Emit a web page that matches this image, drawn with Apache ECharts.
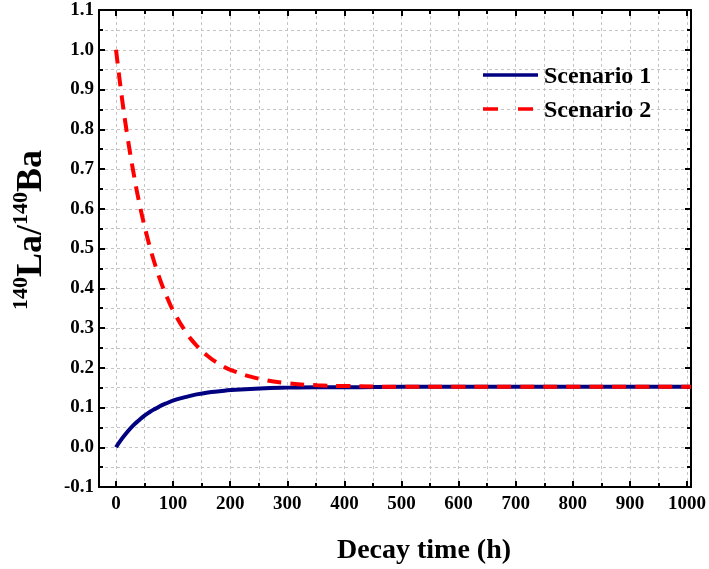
<!DOCTYPE html>
<html>
<head>
<meta charset="utf-8">
<script src="https://cdn.jsdelivr.net/npm/echarts@6/dist/echarts.min.js"></script>
<style>
  html, body { margin: 0; padding: 0; background: #fff; }
  #echarts { width: 709px; height: 569px; }
</style>
</head>
<body>
<div id="echarts"></div>
<script>
// data
var times = [0, 10, 20, 30, 40, 50, 60, 70, 80, 90, 100, 120, 140, 160, 180, 200, 250, 300, 350, 400, 500, 600, 700, 800, 900, 1000];
var scenario1 = [0, 0.021, 0.039, 0.055, 0.068, 0.080, 0.090, 0.098, 0.106, 0.112, 0.118, 0.126, 0.133, 0.138, 0.141, 0.144, 0.148, 0.150, 0.151, 0.151, 0.152, 0.152, 0.152, 0.152, 0.152, 0.152];
var scenario2 = [1.0, 0.882, 0.781, 0.694, 0.618, 0.554, 0.498, 0.450, 0.408, 0.373, 0.342, 0.293, 0.256, 0.229, 0.209, 0.194, 0.172, 0.161, 0.156, 0.154, 0.152, 0.152, 0.152, 0.152, 0.152, 0.152];
var seriesNames = ['Scenario 1', 'Scenario 2'];

var FONT = "'Liberation Serif', 'Times New Roman', serif";
var BLUE = '#000080', RED = '#ff0000';

function pairs(xs, ys) {
  return xs.map(function (x, i) { return [x, ys[i]]; });
}

var chart = echarts.init(document.getElementById('echarts'));

var gridLine = { show: true, lineStyle: { color: '#c4c4c4', type: [3, 3], width: 1 } };
var blackLine = { show: true, onZero: false, lineStyle: { color: '#000', width: 2 } };
var tick = { inside: true, length: 6, lineStyle: { color: '#000', width: 2 } };
var minor = { show: true, splitNumber: 2, length: 4, lineStyle: { color: '#000', width: 2 } };
var labelFont = { color: '#000', fontFamily: FONT, fontWeight: 'bold', fontSize: 19 };

var option = {
  backgroundColor: '#fff',
  animation: false,
  grid: [
    { left: 99, right: 18, top: 10, bottom: 82 },
    { left: 116, right: 18, top: 10, bottom: 82 }
  ],
  xAxis: [
    // frame lines of the full plot box
    { gridIndex: 0, type: 'value', min: -29.6, max: 1000, position: 'bottom',
      axisLine: blackLine, axisTick: { show: false }, axisLabel: { show: false }, splitLine: { show: false } },
    { gridIndex: 0, type: 'value', min: -29.6, max: 1000, position: 'top',
      axisLine: blackLine, axisTick: { show: false }, axisLabel: { show: false }, splitLine: { show: false } },
    // ticks, labels and grid starting at 0
    { gridIndex: 1, type: 'value', min: 0, max: 1000, interval: 100, position: 'bottom',
      axisLine: { show: false, onZero: false },
      axisTick: tick, minorTick: minor,
      axisLabel: Object.assign({ margin: 8, formatter: function (v) { return String(v); } }, labelFont),
      splitLine: gridLine,
      minorSplitLine: gridLine },
    { gridIndex: 1, type: 'value', min: 0, max: 1000, interval: 100, position: 'top',
      axisLine: { show: false, onZero: false },
      axisTick: tick, minorTick: minor,
      axisLabel: { show: false }, splitLine: { show: false } }
  ],
  yAxis: [
    { gridIndex: 0, type: 'value', min: -0.1, max: 1.1, interval: 0.1, position: 'left',
      axisLine: blackLine,
      axisTick: tick, minorTick: minor,
      axisLabel: Object.assign({ margin: 5, formatter: function (v) { return v.toFixed(1); } }, labelFont),
      splitLine: gridLine,
      minorSplitLine: gridLine },
    { gridIndex: 0, type: 'value', min: -0.1, max: 1.1, interval: 0.1, position: 'right',
      axisLine: blackLine,
      axisTick: tick, minorTick: minor,
      axisLabel: { show: false }, splitLine: { show: false } },
    { gridIndex: 1, type: 'value', min: -0.1, max: 1.1, show: false }
  ],
  // legend text from the library, line samples drawn below as graphics
  legend: {
    orient: 'vertical',
    left: 479,
    top: 60,
    itemWidth: 55,
    itemHeight: 14,
    itemGap: 10,
    textStyle: { color: '#000', fontFamily: FONT, fontWeight: 'bold', fontSize: 24 },
    data: [
      { name: seriesNames[0], icon: 'none' },
      { name: seriesNames[1], icon: 'none' }
    ]
  },
  series: [
    {
      name: seriesNames[0],
      type: 'line',
      xAxisIndex: 0, yAxisIndex: 0,
      data: pairs(times, scenario1),
      smooth: true,
      showSymbol: false,
      symbol: 'none',
      color: BLUE,
      lineStyle: { color: BLUE, width: 4 }
    },
    {
      name: seriesNames[1],
      type: 'line',
      xAxisIndex: 0, yAxisIndex: 0,
      data: pairs(times, scenario2),
      smooth: true,
      showSymbol: false,
      symbol: 'none',
      color: RED,
      lineStyle: { color: RED, width: 4, type: [14, 9] }
    }
  ],
  graphic: [
    {
      type: 'line', z: 100,
      shape: { x1: 483, y1: 75, x2: 538, y2: 75 },
      style: { stroke: BLUE, lineWidth: 3.5 }
    },
    {
      type: 'line', z: 100,
      shape: { x1: 483, y1: 109, x2: 538, y2: 109 },
      style: { stroke: RED, lineWidth: 3.5, lineDash: [15, 20] }
    },
    {
      type: 'text',
      x: 30, y: 230,
      rotation: Math.PI / 2,
      style: {
        text: '{sup|140}{main|La/}{sup|140}{main|Ba}',
        align: 'center',
        verticalAlign: 'middle',
        fill: '#000',
        rich: {
          main: { fontFamily: FONT, fontWeight: 'bold', fontSize: 36, lineHeight: 40, verticalAlign: 'bottom' },
          sup: { fontFamily: FONT, fontWeight: 'bold', fontSize: 22, lineHeight: 40, verticalAlign: 'top', padding: [0, 0, 16, 0] }
        }
      }
    },
    {
      type: 'text',
      x: 424, y: 551,
      style: {
        text: 'Decay time (h)',
        align: 'center',
        verticalAlign: 'middle',
        fill: '#000',
        font: 'bold 28px ' + FONT
      }
    },
    {
      type: 'text', x: 712, y: 216, rotation: -Math.PI / 2,
      style: { text: '00', align: 'center', verticalAlign: 'middle', fill: '#222', font: 'bold 11px ' + FONT }
    },
    {
      type: 'text', x: 712, y: 311, rotation: -Math.PI / 2,
      style: { text: '00', align: 'center', verticalAlign: 'middle', fill: '#222', font: 'bold 11px ' + FONT }
    }
  ]
};

chart.setOption(option);
</script>
</body>
</html>
